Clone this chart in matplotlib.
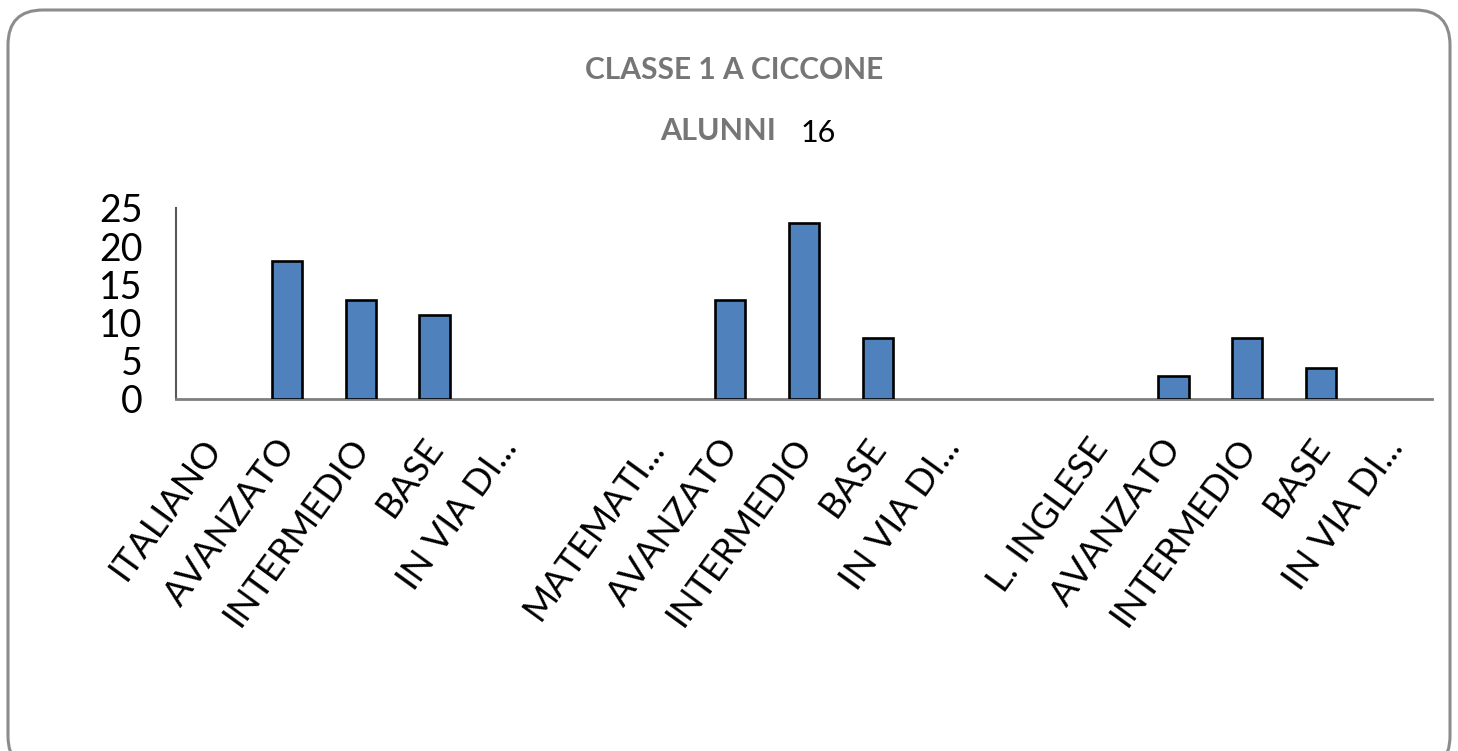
import matplotlib
matplotlib.use("Agg")
import matplotlib.pyplot as plt
from matplotlib.patches import FancyBboxPatch
from matplotlib.transforms import ScaledTranslation

plt.rcParams['font.family'] = ['Lato', 'DejaVu Sans']

# categories (two blank slots separate the three subjects)
categories = ['ITALIANO', 'AVANZATO', 'INTERMEDIO', 'BASE', 'IN VIA DI...', '',
              'MATEMATI...', 'AVANZATO', 'INTERMEDIO', 'BASE', 'IN VIA DI...', '',
              'L. INGLESE', 'AVANZATO', 'INTERMEDIO', 'BASE', 'IN VIA DI...']
values = [0, 18, 13, 11, 0, 0,
          0, 13, 23, 8, 0, 0,
          0, 3, 8, 4, 0]
yticks = [0, 5, 10, 15, 20, 25]

W, H = 1458, 751
fig = plt.figure(figsize=(W / 100, H / 100), dpi=100)

# rounded frame of the chart area
frame = FancyBboxPatch((8 / W, -20 / H), (1450 - 8) / W, (H - 10 + 20) / H,
                       boxstyle="round,pad=0,rounding_size=0.024",
                       transform=fig.transFigure, facecolor='none',
                       edgecolor='#8c8c8c', linewidth=2.2, mutation_aspect=W / H,
                       zorder=-1)
fig.patches.append(frame)

ax = fig.add_axes([176 / W, 1 - 399 / H, (1432 - 176) / W, (399 - 208) / H])
ax.set_facecolor('none')
x = range(len(categories))
# zero-height bars get no outline
edge_w = [1.9 if v else 0 for v in values]
ax.bar(x, values, width=0.41, color='#4F81BD', edgecolor='black', linewidth=edge_w, zorder=3)

ax.set_xlim(-0.5, len(categories) - 0.5)
ax.set_ylim(0, 25)
ax.set_yticks(yticks)
ax.set_yticklabels([str(t) for t in yticks], fontsize=27)
ax.set_xticks(list(x))
ax.set_xticklabels(categories, rotation=54, ha='right', va='top',
                   rotation_mode='anchor', fontsize=26)
ax.tick_params(axis='y', length=0, pad=24)
ax.tick_params(axis='x', length=0, pad=24)
shift = ScaledTranslation(-12 / 100, 0, fig.dpi_scale_trans)
for lab in ax.get_xticklabels():
    lab.set_transform(lab.get_transform() + shift)

for s in ['top', 'right']:
    ax.spines[s].set_visible(False)
ax.spines['left'].set_color('#595959')
ax.spines['left'].set_linewidth(1.5)
ax.spines['bottom'].set_color('#7f7f7f')
ax.spines['bottom'].set_linewidth(2)

fig.text(734 / W, 1 - 70 / H, 'CLASSE 1 A CICCONE', ha='center', va='center',
         fontsize=21.5, fontweight='bold', color='#767676')
fig.text(776 / W, 1 - 131 / H, 'ALUNNI', ha='right', va='center',
         fontsize=22, fontweight='bold', color='#767676')
fig.text(801 / W, 1 - 133 / H, '16', ha='left', va='center',
         fontsize=22, color='black')

fig.savefig('out.png', dpi=100)
